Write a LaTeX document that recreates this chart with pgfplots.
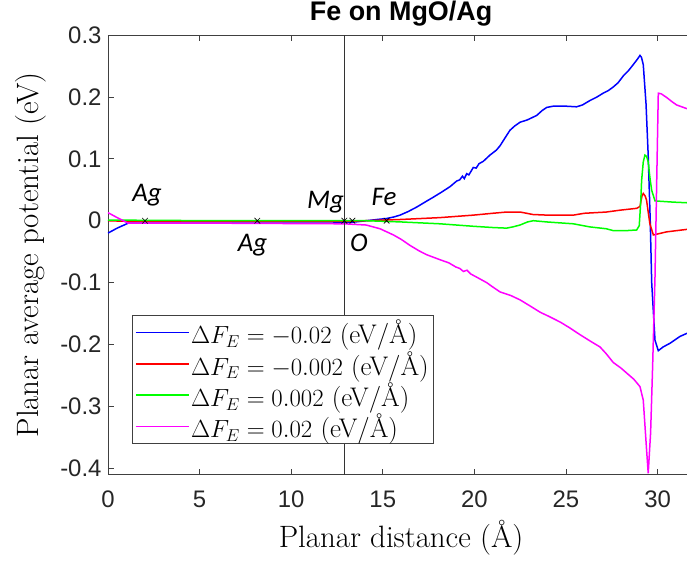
\documentclass[border=0pt]{standalone}
\usepackage{fontspec}
\usepackage{pgfplots}
\pgfplotsset{compat=1.18}
\newfontfamily\arial{Liberation Sans}
\newfontfamily\calib{Carlito}
\definecolor{cB}{RGB}{0,0,255}
\definecolor{cR}{RGB}{255,0,0}
\definecolor{cG}{RGB}{0,255,0}
\definecolor{cM}{RGB}{255,0,255}
\begin{document}
\begin{tikzpicture}
\useasboundingbox (-108bp,-86bp) rectangle (579bp,474.5bp);
\begin{axis}[
  at={(0,0)}, anchor=south west,
  scale only axis, width=586.2bp, height=439.5bp,
  xmin=0, xmax=32, ymin=-0.41, ymax=0.3,
  xtick={0,5,10,15,20,25,30},
  xticklabels={0,5,10,15,20,25,30},
  ytick={-0.4,-0.3,-0.2,-0.1,0,0.1,0.2,0.3},
  yticklabels={-0.4,-0.3,-0.2,-0.1,0,0.1,0.2,0.3},
  ytick pos=left, xtick pos=both,
  tick align=inside,
  major tick length=6bp,
  tick style={black!75, line width=0.8bp},
  axis line style={black!75, line width=0.8bp},
  tick label style={font=\arial\fontsize{24}{28}\selectfont, text=black!85},
  xticklabel style={yshift=-13bp},
  yticklabel style={xshift=-3bp},
  title={Fe on MgO/Ag},
  title style={font=\arial\bfseries\fontsize{27}{30}\selectfont, at={(axis description cs:0.5,1.0205)}, anchor=base},
  xlabel={Planar distance (Å)},
  xlabel style={font=\fontsize{31}{36}\selectfont, at={(axis description cs:0.5,-0.1661)}, anchor=base},
  ylabel={Planar average potential (eV)},
  ylabel style={font=\fontsize{31}{36}\selectfont, at={(axis description cs:-0.1177,0.5)}, anchor=base},
  legend style={at={(axis description cs:0.0404,0.0694)}, anchor=south west,
    font=\fontsize{27}{32}\selectfont, draw=black!75, line width=0.8bp, fill=white,
    inner sep=3bp, row sep=3bp, nodes={inner sep=1.5bp}},
  legend cell align=left,
  legend image code/.code={\draw[#1] (0bp,0bp) -- (53bp,0bp);},
]
\addplot[cB, line width=1.5bp] coordinates {
(0,-0.020) (0.5,-0.012) (1.1,-0.004) (3,-0.004) (6,-0.004) (9,-0.004) (12,-0.004) (13,-0.003) (13.5,-0.002) (14.1,0.000) (14.7,0.002) (15.2,0.0035) (15.6,0.006) (15.94,0.009) (16.4,0.015) (16.85,0.022) (17.3,0.030) (17.76,0.038) (18.2,0.046) (18.67,0.055) (19.03,0.064) (19.2,0.066) (19.35,0.072) (19.45,0.068) (19.58,0.076) (19.7,0.074) (19.94,0.086) (20.1,0.085) (20.25,0.092) (20.49,0.096) (20.85,0.106) (21.2,0.114) (21.4,0.121) (21.7,0.135) (21.94,0.146) (22.2,0.153) (22.49,0.159) (22.9,0.163) (23.4,0.170) (23.7,0.178) (23.95,0.183) (24.3,0.185) (25.0,0.185) (25.58,0.184) (25.9,0.187) (26.3,0.194) (26.7,0.200) (27.03,0.206) (27.3,0.210) (27.58,0.216) (27.85,0.223) (28.13,0.234) (28.4,0.242) (28.67,0.252) (28.9,0.261) (29.04,0.267) (29.12,0.264) (29.22,0.252) (29.37,0.189) (29.49,0.105) (29.6,0.000) (29.68,-0.100) (29.86,-0.193) (30.04,-0.210) (30.3,-0.204) (30.68,-0.198) (31.22,-0.187) (31.6,-0.182) (32,-0.179)
};
\addlegendentry{$\Delta F_E = -0.02$ (eV/Å)}
\addplot[cR, line width=1.5bp] coordinates {
(0,0.000) (1,-0.001) (6,-0.001) (13,-0.001) (14.1,0.000) (16,0.002) (18.12,0.005) (19.94,0.009) (21.0,0.012) (21.76,0.014) (22.5,0.014) (23.2,0.010) (24,0.009) (25.4,0.009) (26,0.012) (26.6,0.013) (27.2,0.014) (27.95,0.017) (28.86,0.020) (29.04,0.023) (29.15,0.040) (29.22,0.044) (29.32,0.040) (29.4,0.033) (29.58,-0.005) (29.77,-0.023) (30.5,-0.018) (31.6,-0.014) (32,-0.013)
};
\addlegendentry{$\Delta F_E = -0.002$ (eV/Å)}
\addplot[cG, line width=1.5bp] coordinates {
(0,0.001) (6,0.000) (13,0.000) (14.1,0.000) (16,-0.002) (18.12,-0.005) (19.94,-0.009) (21.0,-0.011) (21.76,-0.012) (22.1,-0.010) (22.49,-0.007) (22.9,-0.002) (23.22,0.000) (23.95,-0.002) (25.4,-0.005) (26.3,-0.010) (27.2,-0.013) (27.58,-0.016) (28.3,-0.016) (28.86,-0.015) (29.0,-0.008) (29.08,0.030) (29.13,0.065) (29.22,0.095) (29.31,0.106) (29.4,0.104) (29.49,0.095) (29.58,0.070) (29.68,0.049) (29.86,0.032) (30.86,0.030) (31.6,0.029) (32,0.029)
};
\addlegendentry{$\Delta F_E = 0.002$ (eV/Å)}
\addplot[cM, line width=1.5bp] coordinates {
(0,0.013) (0.5,0.005) (1.1,-0.004) (6,-0.004) (12.9,-0.005) (14.1,-0.007) (14.85,-0.013) (15.58,-0.023) (16.0,-0.030) (16.49,-0.040) (17.0,-0.049) (17.4,-0.055) (18.12,-0.063) (18.6,-0.068) (19.0,-0.075) (19.2,-0.077) (19.4,-0.082) (19.6,-0.080) (19.8,-0.086) (20.3,-0.094) (20.67,-0.100) (21.0,-0.107) (21.4,-0.115) (22.0,-0.121) (22.5,-0.128) (23.0,-0.137) (23.6,-0.148) (24.1,-0.155) (24.7,-0.164) (25.2,-0.173) (25.76,-0.184) (26.3,-0.194) (26.86,-0.204) (27.2,-0.215) (27.58,-0.229) (28.0,-0.238) (28.31,-0.246) (28.7,-0.256) (29.04,-0.268) (29.22,-0.290) (29.4,-0.370) (29.49,-0.408) (29.62,-0.343) (29.73,-0.236) (29.86,-0.091) (30.04,0.206) (30.2,0.205) (30.5,0.199) (30.8,0.192) (31.04,0.187) (31.6,0.181) (32,0.178)
};
\addlegendentry{$\Delta F_E = 0.02$ (eV/Å)}
\addplot[black!80, line width=0.8bp, forget plot] coordinates {(12.9,-0.41) (12.9,0.3)};
\addplot[only marks, mark=x, mark size=4bp, black, line width=0.6bp, forget plot] coordinates {(2.02,0) (8.15,0) (12.9,0) (13.34,0) (15.21,0)};
\node[font=\calib\itshape\fontsize{27}{30}\selectfont, anchor=base] at (axis cs:2.13,0.0303) {Ag};
\node[font=\calib\itshape\fontsize{27}{30}\selectfont, anchor=base] at (axis cs:7.89,-0.0503) {Ag};
\node[font=\calib\itshape\fontsize{27}{30}\selectfont, anchor=base] at (axis cs:11.87,0.0202) {Mg};
\node[font=\calib\itshape\fontsize{27}{30}\selectfont, anchor=base] at (axis cs:13.70,-0.0503) {O};
\node[font=\calib\itshape\fontsize{27}{30}\selectfont, anchor=base] at (axis cs:15.07,0.0239) {Fe};
\end{axis}
\end{tikzpicture}
\end{document}
